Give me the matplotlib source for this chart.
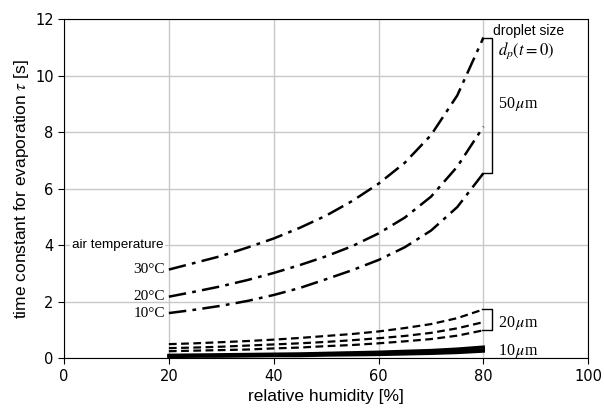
import matplotlib
matplotlib.use("Agg")
import matplotlib.pyplot as plt

plt.rcParams.update({
    "font.family": ["Liberation Sans", "DejaVu Sans"],
    "mathtext.fontset": "stix",
})

# relative humidity [%]
rh = [20, 25, 30, 35, 40, 45, 50, 55, 60, 65, 70, 75, 80]
temps = ["30°C", "20°C", "10°C"]

# time constant tau [s], one row per air temperature
tau_50 = [
    [3.14, 3.38, 3.62, 3.92, 4.24, 4.62, 5.05, 5.57, 6.18, 6.92, 7.90, 9.30, 11.35],
    [2.18, 2.36, 2.55, 2.77, 3.02, 3.30, 3.61, 3.97, 4.42, 4.98, 5.72, 6.78, 8.20],
    [1.60, 1.72, 1.86, 2.03, 2.24, 2.49, 2.80, 3.12, 3.48, 3.93, 4.52, 5.35, 6.55],
]
tau_20 = [
    [0.50, 0.53, 0.57, 0.61, 0.66, 0.72, 0.79, 0.86, 0.95, 1.07, 1.21, 1.42, 1.73],
    [0.36, 0.38, 0.41, 0.45, 0.49, 0.53, 0.58, 0.64, 0.71, 0.79, 0.90, 1.06, 1.28],
    [0.25, 0.27, 0.29, 0.31, 0.35, 0.38, 0.43, 0.47, 0.53, 0.60, 0.68, 0.80, 0.99],
]
tau_10 = [
    [0.11, 0.12, 0.13, 0.14, 0.15, 0.16, 0.18, 0.20, 0.22, 0.25, 0.28, 0.33, 0.40],
    [0.08, 0.09, 0.10, 0.10, 0.11, 0.12, 0.14, 0.15, 0.17, 0.19, 0.22, 0.26, 0.31],
    [0.06, 0.07, 0.07, 0.08, 0.09, 0.09, 0.11, 0.12, 0.13, 0.15, 0.17, 0.20, 0.25],
]

fig = plt.figure(figsize=(6.04, 4.09), dpi=100)
ax = fig.add_axes([0.106, 0.124, 0.868, 0.829])

for ys in tau_50:
    ax.plot(rh, ys, color="black", lw=1.8, ls=(0, (7, 2.5, 1.5, 2.5)))
for ys in tau_20:
    ax.plot(rh, ys, color="black", lw=1.6, ls=(0, (3.5, 2)))
for ys in tau_10:
    ax.plot(rh, ys, color="black", lw=2.2, ls="-")

ax.set_xlim(0, 100)
ax.set_ylim(0, 12)
ax.set_xticks([0, 20, 40, 60, 80, 100])
ax.set_yticks([0, 2, 4, 6, 8, 10, 12])
ax.grid(True, color="#c8c8c8", lw=1.0)
ax.set_axisbelow(True)
for lbl in ax.get_xticklabels() + ax.get_yticklabels():
    lbl.set_family("DejaVu Sans")
    lbl.set_fontsize(10.5)
ax.tick_params(direction="out", length=4, width=0.8)
ax.set_xlabel("relative humidity [%]", fontsize=12.5, labelpad=4)
ax.set_ylabel(r"time constant for evaporation $\tau$ [s]", fontsize=12.5,
              labelpad=3)

# brackets at the right end of each size group
def bracket(y_top, y_bot, x0=79.8, x1=81.6):
    ax.plot([x0, x1, x1, x0], [y_top, y_top, y_bot, y_bot],
            color="black", lw=1.0, clip_on=False)

bracket(tau_50[0][-1], tau_50[2][-1])
bracket(tau_20[0][-1], tau_20[2][-1])

serif = ["Liberation Serif", "DejaVu Serif"]
ax.text(81.8, 11.6, "droplet size", fontsize=10, va="center", ha="left")
ax.text(82.8, 10.9, r"$d_p(t=0)$", fontsize=12, va="center", ha="left")
ax.text(82.8, 9.0, r"50$\,\mu$m", fontsize=11.5, va="center", ha="left",
        family=serif)
ax.text(82.8, 1.25, r"20$\,\mu$m", fontsize=11.5, va="center", ha="left",
        family=serif)
ax.text(82.8, 0.25, r"10$\,\mu$m", fontsize=11.5, va="center", ha="left",
        family=serif)

ax.text(18.9, 4.0, "air temperature", fontsize=9.7, va="center", ha="right",
        bbox=dict(facecolor="white", edgecolor="none", pad=1.5))
for t, ys in zip(temps, tau_50):
    ax.text(19.2, ys[0], t, fontsize=11, va="center", ha="right",
            family=serif)

fig.savefig("out.png", dpi=100)
